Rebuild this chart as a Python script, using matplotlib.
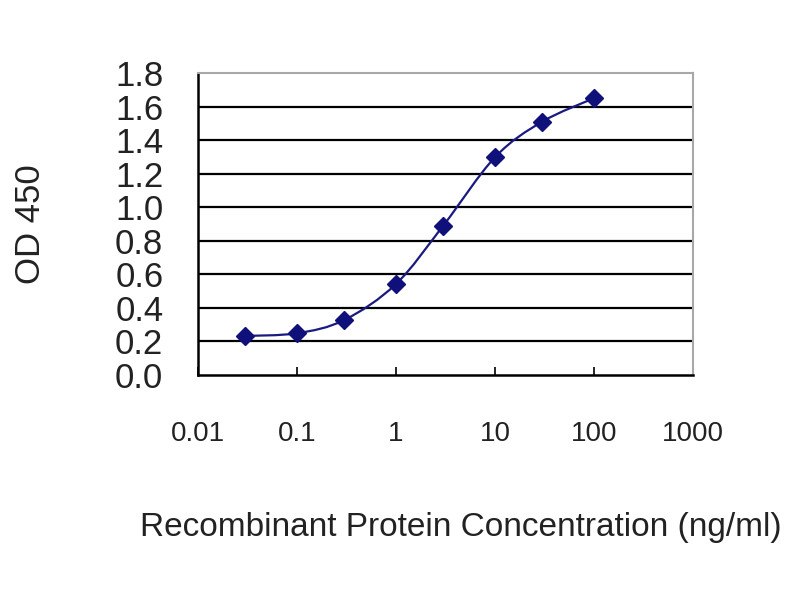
import numpy as np
import matplotlib
matplotlib.use("Agg")
import matplotlib.pyplot as plt
from matplotlib.path import Path
from matplotlib.patches import PathPatch

# concentration (ng/ml) and OD 450 readings
conc = [0.03, 0.1, 0.3, 1, 3, 10, 30, 100]
od450 = [0.233, 0.249, 0.328, 0.543, 0.891, 1.299, 1.511, 1.651]

xticks = [0.01, 0.1, 1, 10, 100, 1000]
xticklabels = ["0.01", "0.1", "1", "10", "100", "1000"]
yticks = [0.0, 0.2, 0.4, 0.6, 0.8, 1.0, 1.2, 1.4, 1.6, 1.8]
yticklabels = ["0.0", "0.2", "0.4", "0.6", "0.8", "1.0", "1.2", "1.4", "1.6", "1.8"]

plt.rcParams["font.family"] = "Liberation Sans"

fig = plt.figure(figsize=(8, 6), dpi=100)
ax = fig.add_axes([0.2475, 0.375, 0.6188, 0.503])
ax.set_xscale("log")
ax.set_xlim(0.01, 1000)
ax.set_ylim(0, 1.8)

# smoothed line like excel: catmull-rom bezier in log-x space
lx = np.log10(conc)
ly = np.array(od450)
verts = [(lx[0], ly[0])]
codes = [Path.MOVETO]
n = len(lx)
t = 1.0 / 6.0
for i in range(n - 1):
    p0 = (lx[max(i - 1, 0)], ly[max(i - 1, 0)])
    p1 = (lx[i], ly[i])
    p2 = (lx[i + 1], ly[i + 1])
    p3 = (lx[min(i + 2, n - 1)], ly[min(i + 2, n - 1)])
    c1 = (p1[0] + (p2[0] - p0[0]) * t, p1[1] + (p2[1] - p0[1]) * t)
    c2 = (p2[0] - (p3[0] - p1[0]) * t, p2[1] - (p3[1] - p1[1]) * t)
    verts += [c1, c2, p2]
    codes += [Path.CURVE4] * 3
verts = [(10 ** vx, vy) for vx, vy in verts]
curve = PathPatch(Path(verts, codes), facecolor="none", edgecolor="#1a1a80",
                  lw=1.6, zorder=3, transform=ax.transData)
ax.add_patch(curve)

ax.plot(conc, od450, linestyle="none", marker="D", markersize=9,
        color="#10107a", zorder=4)

for yv in yticks[1:-1]:
    ax.axhline(yv, color="black", lw=1.6, zorder=1)

ax.set_xticks(xticks)
ax.set_xticklabels(xticklabels, fontsize=20)
ax.xaxis.set_minor_locator(matplotlib.ticker.NullLocator())
ax.set_yticks(yticks)
ax.set_yticklabels(yticklabels, fontsize=25)
ax.tick_params(axis="x", direction="in", length=6, width=1.2, pad=33, colors="black")
ax.tick_params(axis="y", length=0, pad=25)
for lab in ax.get_xticklabels() + ax.get_yticklabels():
    lab.set_color("#222222")

ax.spines["left"].set_linewidth(1.8)
ax.spines["bottom"].set_linewidth(1.8)
ax.spines["top"].set_color("#a8a8a8")
ax.spines["right"].set_color("#a8a8a8")
ax.spines["top"].set_linewidth(1.5)
ax.spines["right"].set_linewidth(1.5)

fig.text(0.576, 0.121, "Recombinant Protein Concentration (ng/ml)",
         ha="center", va="center", fontsize=24, color="#222222")
fig.text(0.038, 0.627, "OD 450", rotation=90, ha="center", va="center",
         fontsize=25, color="#222222")

plt.savefig("out.png", dpi=100)
